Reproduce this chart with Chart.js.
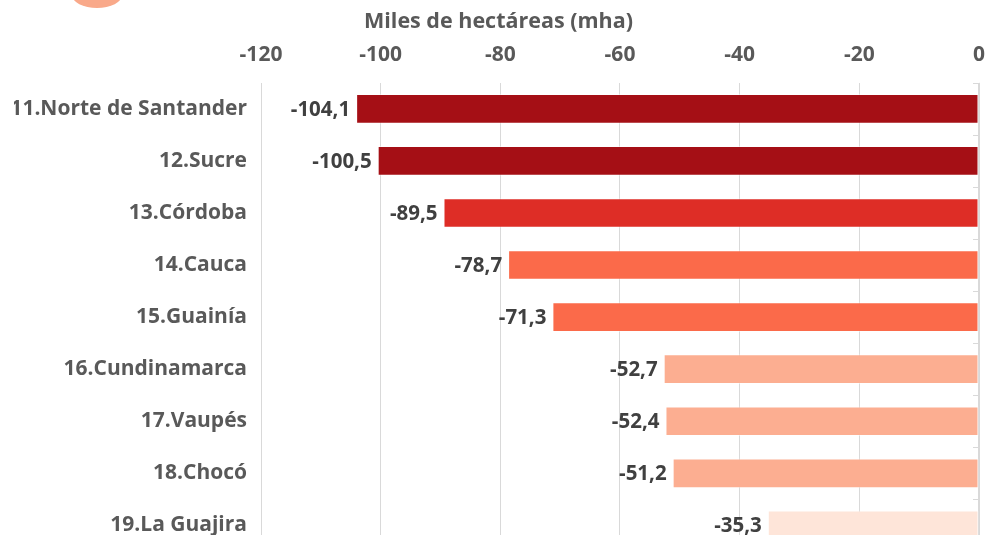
<!DOCTYPE html>
<html>
<head>
<meta charset="utf-8">
<script src="https://cdn.jsdelivr.net/npm/chart.js@4"></script>
<style>
  html, body { margin: 0; padding: 0; background: #fff; overflow: hidden; }
  #wrap { position: relative; width: 1000px; height: 535px; overflow: hidden; }
  #chart { position: absolute; left: 0; top: 0; }
  .blob { position: absolute; left: 72px; top: -18px; width: 50px; height: 26px; border-radius: 50%; background: #f9a98a; }
</style>
</head>
<body>
<div id="wrap">
  <div class="blob"></div>
  <canvas id="chart" width="1000" height="570"></canvas>
</div>
<script>
// Departamentos y pérdida de área (miles de hectáreas)
const categories = ['11.Norte de Santander', '12.Sucre', '13.Córdoba', '14.Cauca', '15.Guainía',
  '16.Cundinamarca', '17.Vaupés', '18.Chocó', '19.La Guajira'];
const values = [-104.1, -100.5, -89.5, -78.7, -71.3, -52.7, -52.4, -51.2, -35.3];
const xMin = -120;
const xMax = 0;
const xStep = 20;

const barColors = ['#a50f15', '#a50f15', '#de2d26', '#fb6a4a', '#fb6a4a',
  '#fcae91', '#fcae91', '#fcae91', '#fee5d9'];

const fontFamily = "'Open Sans', sans-serif";

// value labels left of each bar
const valueLabels = {
  id: 'valueLabels',
  afterDatasetsDraw(chart) {
    const ctx = chart.ctx;
    const meta = chart.getDatasetMeta(0);
    ctx.save();
    ctx.font = "700 20.5px " + fontFamily;
    ctx.fillStyle = '#404040';
    ctx.textAlign = 'right';
    ctx.textBaseline = 'middle';
    meta.data.forEach((bar, i) => {
      const txt = values[i].toFixed(1).replace('.', ',');
      ctx.fillText(txt, bar.x - 6, bar.y + 1);
    });
    ctx.restore();
  }
};

// vertical axis line at 0 with small ticks between categories
const zeroAxis = {
  id: 'zeroAxis',
  afterDatasetsDraw(chart) {
    const ctx = chart.ctx;
    const x = chart.scales.x.getPixelForValue(0);
    const area = chart.chartArea;
    const step = (area.bottom - area.top) / categories.length;
    ctx.save();
    ctx.strokeStyle = '#d9d9d9';
    ctx.lineWidth = 1;
    ctx.beginPath();
    ctx.moveTo(x + 0.5, area.top);
    ctx.lineTo(x + 0.5, area.bottom);
    for (let i = 0; i <= categories.length; i++) {
      const yy = Math.round(area.top + i * step) + 0.5;
      ctx.moveTo(x - 6, yy);
      ctx.lineTo(x + 0.5, yy);
    }
    ctx.stroke();
    ctx.restore();
  }
};

new Chart(document.getElementById('chart'), {
  type: 'bar',
  data: {
    labels: categories,
    datasets: [{
      data: values,
      backgroundColor: barColors,
      borderColor: 'rgba(255,255,255,0.45)',
      borderWidth: 1,
      borderSkipped: false,
      categoryPercentage: 1,
      barPercentage: 0.57
    }]
  },
  options: {
    indexAxis: 'y',
    responsive: false,
    animation: false,
    layout: { padding: { top: 0, right: 17, bottom: 11, left: 14 } },
    plugins: {
      legend: { display: false },
      tooltip: { enabled: false },
      title: {
        display: true,
        text: 'Miles de hectáreas (mha)',
        color: '#595959',
        font: { family: fontFamily, size: 21.5, weight: '700' },
        padding: { top: 9, bottom: 10 }
      }
    },
    scales: {
      x: {
        position: 'top',
        min: xMin,
        max: xMax,
        afterFit: scale => { scale.height = 38; },
        ticks: {
          stepSize: xStep,
          color: '#595959',
          padding: 15,
          font: { family: fontFamily, size: 21, weight: '700' },
          callback: v => String(v)
        },
        grid: { color: '#d9d9d9', drawTicks: false },
        border: { display: false }
      },
      y: {
        afterFit: scale => { scale.width = 247; },
        ticks: {
          color: '#595959',
          padding: 6,
          font: { family: fontFamily, size: 21, weight: '700' }
        },
        grid: { display: false },
        border: { display: false }
      }
    }
  },
  plugins: [valueLabels, zeroAxis]
});
</script>
</body>
</html>
